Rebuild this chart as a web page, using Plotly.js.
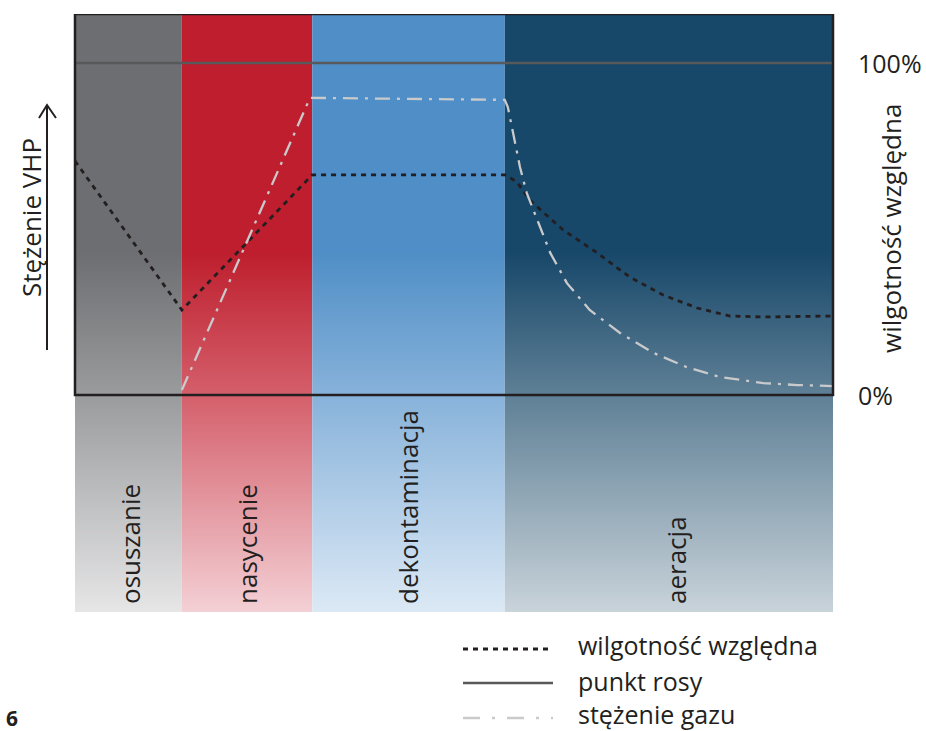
<!DOCTYPE html>
<html>
<head>
<meta charset="utf-8">
<script src="https://cdn.plot.ly/plotly-3.0.1.min.js"></script>
<style>
  html, body { margin: 0; padding: 0; background: #ffffff; }
  #chart { width: 926px; height: 731px; }
</style>
</head>
<body>
<div id="chart"></div>
<script>
// ---- data ----
const phaseNames = ['osuszanie', 'nasycenie', 'dekontaminacja', 'aeracja'];
const phaseEdges = [0, 14.1, 31.3, 56.7, 100];          // time (relative units)
const phaseColors = ['#6d6e71', '#be1e2d', '#4f8ec6', '#174769'];
const phaseMidColors = ['#9a9b9d', '#d45f6b', '#87b2da', '#5f8096'];
const phaseLightColors = ['#e6e6e7', '#f3d0d5', '#dce9f5', '#c9d3da'];

const humidityX = [0, 14.1, 31.3, 56.7, 58.3, 60.0, 64.4, 68.9, 73.2, 77.6, 82.1, 86.4, 90.8, 100];
const humidityY = [0.705, 0.256, 0.663, 0.663, 0.642, 0.587, 0.497, 0.428, 0.355, 0.301, 0.262, 0.238, 0.235, 0.238];

const gasX = [14.1, 31.0, 56.7, 57.1, 57.8, 58.7, 59.6, 61.0, 62.7, 64.9, 67.9, 71.9, 76.3, 80.7, 85.1, 90.8, 95.3, 100];
const gasY = [0.015, 0.895, 0.889, 0.867, 0.789, 0.687, 0.608, 0.527, 0.428, 0.337, 0.256, 0.187, 0.127, 0.084, 0.054, 0.036, 0.030, 0.027];

const dewX = [0, 100];
const dewY = [1.0, 1.0];

const tickVals = [0, 1];
const tickText = ['0%', '100%'];
const seriesNames = ['wilgotność względna', 'punkt rosy', 'stężenie gazu'];

// ---- layout helpers ----
const L = 75, R = 833, T = 14, B = 612;
const fx = p => (p - L) / (R - L);
const fy = p => (B - p) / (B - T);
const yTop = 1.1476, yBot = -0.6536;
const FONT = 'Open Sans, Noto Sans, sans-serif';
const INK = '#231f20';
const GAS = '#c9cacc';
const DEW = '#58595b';

const traces = [];
const fracZero = (0 - yBot) / (yTop - yBot);
const fracSolid = (0.431 - yBot) / (yTop - yBot);
for (let i = 0; i < phaseNames.length; i++) {
  const x0 = phaseEdges[i], x1 = phaseEdges[i + 1];
  traces.push({
    type: 'scatter', mode: 'none', fill: 'toself', hoverinfo: 'skip', showlegend: false,
    x: [x0, x1, x1, x0, x0],
    y: [yBot, yBot, yTop, yTop, yBot],
    fillcolor: phaseColors[i],
    fillgradient: {
      type: 'vertical', start: yBot, stop: yTop,
      colorscale: [[0, phaseLightColors[i]], [fracZero, phaseMidColors[i]], [fracSolid, phaseColors[i]], [1, phaseColors[i]]]
    }
  });
}
traces.push({ type: 'scatter', mode: 'lines', x: dewX, y: dewY, name: seriesNames[1], showlegend: false,
  line: { color: DEW, width: 2.5 } });
traces.push({ type: 'scatter', mode: 'lines', x: humidityX, y: humidityY, name: seriesNames[0], showlegend: false,
  line: { color: INK, width: 2.8, dash: '5px,5px' } });
traces.push({ type: 'scatter', mode: 'lines', x: gasX, y: gasY, name: seriesNames[2], showlegend: false,
  line: { color: GAS, width: 2.3, dash: '15px,7px,3px,7px' } });

const annotations = [];
const bandLabelX = [130, 247, 408, 676];
phaseNames.forEach((n, i) => {
  annotations.push({ text: n, xref: 'paper', yref: 'paper', x: fx(bandLabelX[i]), y: fy(606),
    xanchor: 'center', yanchor: 'bottom', textangle: -90, showarrow: false,
    font: { family: FONT, size: 26, color: INK } });
});
annotations.push({ text: 'Stężenie VHP', xref: 'paper', yref: 'paper', x: fx(31), y: fy(218),
  xanchor: 'center', yanchor: 'middle', textangle: -90, showarrow: false,
  font: { family: FONT, size: 26, color: INK } });
annotations.push({ text: seriesNames[0], xref: 'paper', yref: 'paper', x: fx(891), y: fy(229),
  xanchor: 'center', yanchor: 'middle', textangle: -90, showarrow: false,
  font: { family: FONT, size: 26, color: INK } });
tickVals.forEach((v, i) => {
  annotations.push({ text: tickText[i], xref: 'paper', yref: 'y', x: fx(856), y: v,
    xanchor: 'left', yanchor: 'middle', showarrow: false,
    font: { family: FONT, size: 25, color: INK } });
});
const legendY = [645, 681, 714];
seriesNames.forEach((n, i) => {
  annotations.push({ text: n, xref: 'paper', yref: 'paper', x: fx(577), y: fy(legendY[i]),
    xanchor: 'left', yanchor: 'middle', showarrow: false, borderpad: 0,
    font: { family: FONT, size: 25, color: INK } });
});
annotations.push({ text: '<b>6</b>', xref: 'paper', yref: 'paper', x: fx(4), y: fy(718),
  xanchor: 'left', yanchor: 'middle', showarrow: false,
  font: { family: FONT, size: 21, color: INK } });

const shapes = [
  // frame
  { type: 'rect', xref: 'paper', yref: 'y', x0: 0, x1: 1, y0: 0, y1: yTop,
    line: { color: INK, width: 2.5 }, fillcolor: 'rgba(0,0,0,0)', layer: 'above' },
  // arrow
  { type: 'line', xref: 'paper', yref: 'paper', x0: fx(47), x1: fx(47), y0: fy(350), y1: fy(105),
    line: { color: INK, width: 2 } },
  { type: 'path', xref: 'paper', yref: 'paper',
    path: `M ${fx(39)} ${fy(118)} L ${fx(47)} ${fy(105)} L ${fx(56)} ${fy(118)}`,
    line: { color: INK, width: 2 } },
  // legend samples
  { type: 'line', xref: 'paper', yref: 'paper', x0: fx(463), x1: fx(553), y0: fy(649), y1: fy(649),
    line: { color: INK, width: 2.8, dash: '5px,5px' } },
  { type: 'line', xref: 'paper', yref: 'paper', x0: fx(463), x1: fx(553), y0: fy(683), y1: fy(683),
    line: { color: DEW, width: 2.5 } },
  { type: 'line', xref: 'paper', yref: 'paper', x0: fx(463), x1: fx(553), y0: fy(718), y1: fy(718),
    line: { color: GAS, width: 2.5, dash: '17px,12px,3px,12px' } }
];

const layout = {
  width: 926, height: 731,
  margin: { l: L, r: 926 - R, t: T, b: 731 - B, pad: 0 },
  paper_bgcolor: '#ffffff', plot_bgcolor: '#ffffff',
  showlegend: false,
  xaxis: { range: [0, 100], visible: false, fixedrange: true },
  yaxis: { range: [yBot, yTop], visible: false, fixedrange: true },
  annotations: annotations,
  shapes: shapes
};

Plotly.newPlot('chart', traces, layout, { displayModeBar: false, staticPlot: true });
</script>
</body>
</html>
